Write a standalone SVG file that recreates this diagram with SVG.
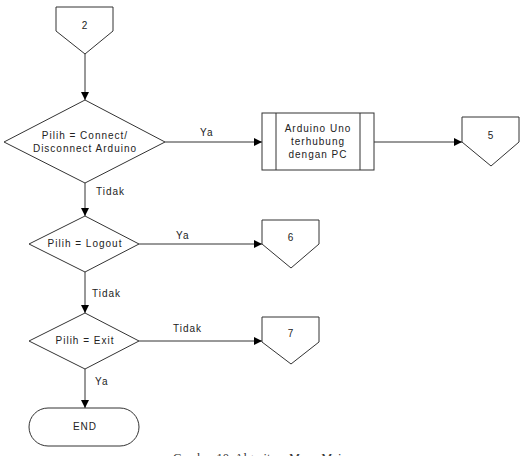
<svg xmlns="http://www.w3.org/2000/svg" width="522" height="456" viewBox="0 0 522 456">
<defs>
<marker id="arr" markerWidth="8" markerHeight="8" refX="8" refY="4" orient="auto" markerUnits="userSpaceOnUse">
<path d="M0,0 L8,4 L0,8 Z" fill="#000"/>
</marker>
<style>
.s{fill:#fff;stroke:#333;stroke-width:1}
.t{font-family:"Liberation Sans",Arial,sans-serif;font-size:10px;letter-spacing:1px;fill:#222;text-anchor:middle}
.l{font-family:"Liberation Sans",Arial,sans-serif;font-size:10px;letter-spacing:1px;fill:#222}
.c{fill:none;stroke:#333;stroke-width:1}
</style>
</defs>
<rect width="522" height="456" fill="#fff"/>
<g id="connectors">
<line class="c" x1="85" y1="54" x2="85" y2="100" marker-end="url(#arr)"/>
<line class="c" x1="165" y1="142" x2="262" y2="142" marker-end="url(#arr)"/>
<line class="c" x1="374" y1="142" x2="462" y2="142" marker-end="url(#arr)"/>
<line class="c" x1="85" y1="183" x2="85" y2="216" marker-end="url(#arr)"/>
<line class="c" x1="139" y1="244" x2="262" y2="244" marker-end="url(#arr)"/>
<line class="c" x1="85" y1="272" x2="85" y2="313" marker-end="url(#arr)"/>
<line class="c" x1="139" y1="341" x2="262" y2="341" marker-end="url(#arr)"/>
<line class="c" x1="85" y1="369" x2="85" y2="408" marker-end="url(#arr)"/>
<text class="l" x="200" y="136">Ya</text>
<text class="l" x="96" y="195">Tidak</text>
<text class="l" x="176" y="239">Ya</text>
<text class="l" x="92" y="297">Tidak</text>
<text class="l" x="173" y="332">Tidak</text>
<text class="l" x="95" y="385">Ya</text>
</g>
<g id="off2">
<path class="s" d="M56,7 H113 V31 L85,54 L56,31 Z"/>
<text class="t" x="85" y="29">2</text>
</g>
<g id="dec1">
<path class="s" d="M85,100 L165,142 L85,183 L4,142 Z"/>
<text class="t" x="85" y="139">Pilih = Connect/</text>
<text class="t" x="85" y="152">Disconnect Arduino</text>
</g>
<g id="proc1">
<rect class="s" x="262" y="113" width="112" height="57"/>
<line class="c" x1="276" y1="113" x2="276" y2="170"/>
<line class="c" x1="360" y1="113" x2="360" y2="170"/>
<text class="t" x="318" y="132">Arduino Uno</text>
<text class="t" x="318" y="145">terhubung</text>
<text class="t" x="318" y="158">dengan PC</text>
</g>
<g id="off5">
<path class="s" d="M462,117 H519 V142 L491,166 L462,142 Z"/>
<text class="t" x="491" y="139">5</text>
</g>
<g id="dec2">
<path class="s" d="M85,216 L139,244 L85,272 L29,244 Z"/>
<text class="t" x="85" y="247">Pilih = Logout</text>
</g>
<g id="off6">
<path class="s" d="M262,220 H319 V244 L291,268 L262,244 Z"/>
<text class="t" x="291" y="241">6</text>
</g>
<g id="dec3">
<path class="s" d="M85,313 L139,341 L85,369 L29,341 Z"/>
<text class="t" x="85" y="344">Pilih = Exit</text>
</g>
<g id="off7">
<path class="s" d="M262,317 H319 V342 L291,364 L262,342 Z"/>
<text class="t" x="291" y="337">7</text>
</g>
<g id="end">
<rect class="s" x="29" y="408" width="110" height="38" rx="19" ry="19"/>
<text class="t" x="85" y="430">END</text>
</g>
<text x="173" y="462" style="font-family:'Liberation Serif','Times New Roman',serif;font-size:12.5px;fill:#333">Gambar 10. Algoritma Menu Main</text>
</svg>
